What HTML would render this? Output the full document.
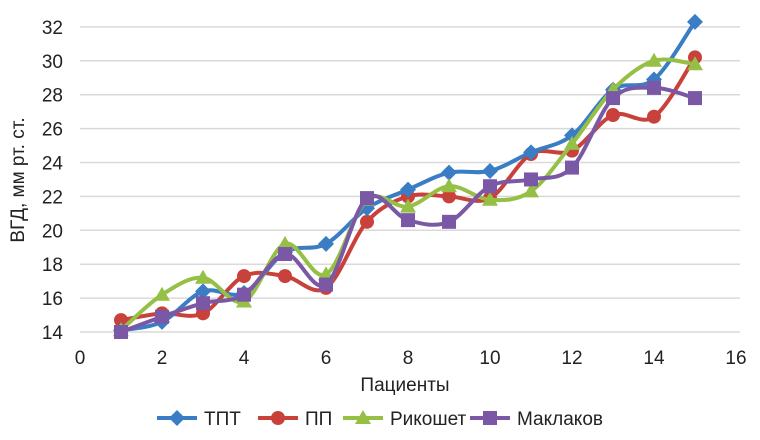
<!DOCTYPE html>
<html><head><meta charset="utf-8"><style>
body{margin:0;background:#fff}
svg{display:block;font-family:"Liberation Sans Narrow","Liberation Sans",sans-serif}
</style></head><body>
<svg id="c" width="760" height="440"></svg>
<script>
const xTicks=[0,2,4,6,8,10,12,14,16];
const yTicks=[14,16,18,20,22,24,26,28,30,32];
const patients=[1,2,3,4,5,6,7,8,9,10,11,12,13,14,15];
const tpt=[14.1,14.6,16.4,16.3,18.7,19.2,21.3,22.4,23.4,23.5,24.6,25.6,28.3,28.9,32.3];
const pp=[14.7,15.1,15.1,17.3,17.3,16.6,20.5,22.0,22.0,21.9,24.5,24.7,26.8,26.7,30.2];
const rik=[14.1,16.2,17.2,15.8,19.2,17.4,21.8,21.4,22.6,21.8,22.3,25.1,28.3,30.0,29.8];
const mak=[14.0,14.9,15.7,16.2,18.6,16.8,21.9,20.6,20.5,22.6,23.0,23.7,27.8,28.4,27.8];
const seriesNames=["ТПТ","ПП","Рикошет","Маклаков"];
const NS="http://www.w3.org/2000/svg";
const svg=document.getElementById('c');
const X=v=>80+v*41.0, Y=v=>332-(v-14)*16.95;
function el(t,a,p){const e=document.createElementNS(NS,t);for(const k in a)e.setAttribute(k,a[k]);(p||svg).appendChild(e);return e;}
yTicks.forEach(t=>{
 const g=el('line',{x1:80,x2:740,y1:Y(t),y2:Y(t),stroke:'#d9d9d9','stroke-width':1.5});
 
 
 const l=el('text',{x:63,y:Y(t)+7,'text-anchor':'end','font-size':19,fill:'#222'});l.textContent=t;
 
 
});
xTicks.forEach(t=>{
 const l=el('text',{x:X(t),y:364,'text-anchor':'middle','font-size':19,fill:'#222'});l.textContent=t;
 
 
});
const xt=el('text',{x:405,y:391,'text-anchor':'middle','font-size':19,fill:'#222'});xt.textContent='Пациенты';


const yt=el('text',{x:0,y:0,'text-anchor':'middle','font-size':19,fill:'#222',transform:'translate(24,180) rotate(-90)'});yt.textContent='ВГД, мм рт. ст.';


function smooth(pts){let d='M'+pts[0][0]+','+pts[0][1];
 for(let i=0;i<pts.length-1;i++){const p0=pts[i-1]||pts[i],p1=pts[i],p2=pts[i+1],p3=pts[i+2]||p2;
  d+=' C'+(p1[0]+(p2[0]-p0[0])/6)+','+(p1[1]+(p2[1]-p0[1])/6)+' '+(p2[0]-(p3[0]-p1[0])/6)+','+(p2[1]-(p3[1]-p1[1])/6)+' '+p2[0]+','+p2[1];}
 return d;}
function marker(type,x,y,c,g){
 if(type==0)return el('path',{d:`M${x},${y-8}L${x+8},${y}L${x},${y+8}L${x-8},${y}Z`,fill:c},g);
 if(type==1)return el('circle',{cx:x,cy:y,r:7,fill:c},g);
 if(type==2)return el('path',{d:`M${x},${y-8}L${x+8},${y+6}L${x-8},${y+6}Z`,fill:c},g);
 return el('rect',{x:x-7,y:y-7,width:14,height:14,fill:c},g);
}
const colors=['#3a7dc4','#c8413a','#96bf46','#7b58a6'];
const data=[tpt,pp,rik,mak];
[1,0,2,3].forEach(si=>{
 const g=el('g',{});
 
 
 const pts=patients.map((p,i)=>[X(p),Y(data[si][i])]);
 el('path',{d:smooth(pts),fill:'none',stroke:colors[si],'stroke-width':4},g);
 pts.forEach(p=>{const m=marker(si,p[0],p[1],colors[si],g);
  
  });
});
const lx=[157,258,343,470];
seriesNames.forEach((n,i)=>{
 const g=el('g',{});
 
 
 el('line',{x1:lx[i],x2:lx[i]+40,y1:418,y2:418,stroke:colors[i],'stroke-width':4},g);
 marker(i,lx[i]+20,418,colors[i],g);
 const t=el('text',{x:lx[i]+47,y:425,'font-size':19,fill:'#222'},g);t.textContent=n;
});
</script>
</body></html>
